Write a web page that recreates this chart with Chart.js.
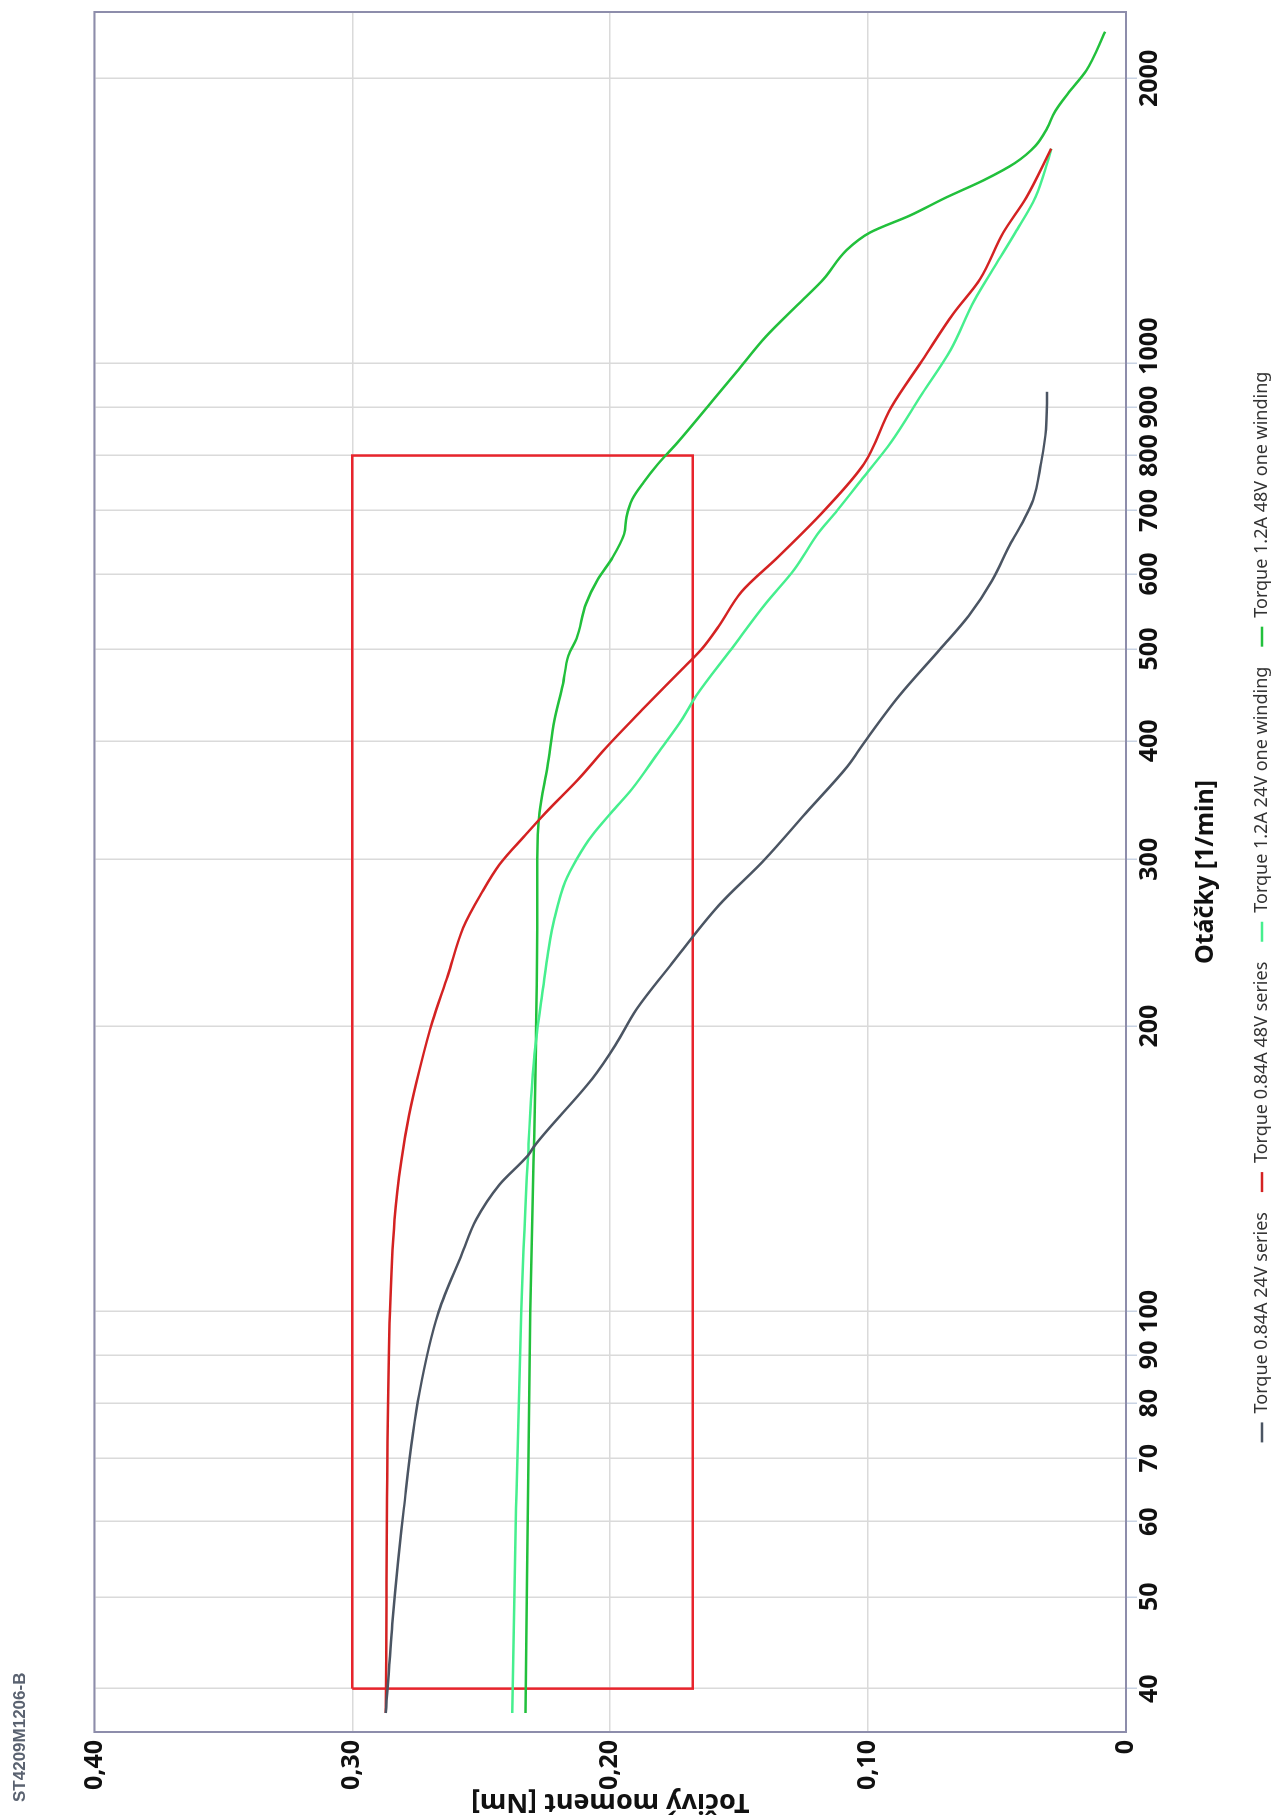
<!DOCTYPE html>
<html>
<head>
<meta charset="utf-8">
<title>ST4209M1206-B</title>
<script src="https://cdn.jsdelivr.net/npm/chart.js@4.4.1/dist/chart.umd.min.js"></script>
<style>
  html, body { margin: 0; padding: 0; background: #fff; overflow: hidden; width: 1272px; height: 1818px; }
  /* the chart is laid out landscape and turned a quarter turn to stand upright on the page */
  #frame { position: absolute; left: 0; top: 0; width: 1818px; height: 1272px;
           transform-origin: 0 0; transform: translateY(1818px) rotate(-90deg); background: #fff; }
  canvas { display: block; }
</style>
</head>
<body>
<div id="frame"><canvas id="chart" width="1818" height="1272"></canvas></div>
<script>
const chartTitle = 'ST4209M1206-B';
const speedAxisTitle = 'Otáčky [1/min]';
const torqueAxisTitle = 'Točivý moment [Nm]';
const speedTicks = [40, 50, 60, 70, 80, 90, 100, 200, 300, 400, 500, 600, 700, 800, 900, 1000, 2000];
const torqueTicks = [0, 0.1, 0.2, 0.3, 0.4];

const seriesNames = [
  'Torque 0.84A 24V series',
  'Torque 0.84A 48V series',
  'Torque 1.2A 24V one winding',
  'Torque 1.2A 48V one winding'
];

// 0.84 A, 24 V, series
const speed084A24V = [37.7, 46.8, 62, 82, 100, 115, 125, 136, 146, 150, 176, 191, 208, 233, 268, 300, 336, 376, 398, 446, 500, 542, 590, 644, 681, 718, 784, 852, 934];
const torque084A24V = [0.287, 0.2845, 0.280, 0.274, 0.2665, 0.2575, 0.252, 0.243, 0.232, 0.229, 0.207, 0.198, 0.190, 0.176, 0.158, 0.140, 0.124, 0.108, 0.1016, 0.088, 0.072, 0.061, 0.052, 0.045, 0.040, 0.036, 0.033, 0.031, 0.0306];

// 0.84 A, 48 V, series
const speed084A48V = [37.7, 100, 125, 144, 161, 181, 202, 226, 254, 276, 296, 318, 336, 366, 393, 433, 472, 500, 528, 575, 625, 700, 784, 900, 1008, 1129, 1228, 1375, 1496, 1686];
const torque084A48V = [0.287, 0.2854, 0.2836, 0.281, 0.278, 0.2737, 0.269, 0.263, 0.257, 0.250, 0.243, 0.233, 0.225, 0.2117, 0.2018, 0.187, 0.1735, 0.1645, 0.158, 0.149, 0.135, 0.117, 0.1016, 0.091, 0.079, 0.067, 0.0566, 0.0476, 0.0387, 0.029];

// 1.2 A, 24 V, one winding
const speed12A24V = [37.7, 62, 100, 144, 191, 220, 240, 260, 284, 300, 318, 336, 356, 388, 422, 446, 500, 558, 607, 661, 700, 760, 827, 930, 1034, 1165, 1268, 1374, 1500, 1630, 1686];
const torque12A24V = [0.238, 0.2365, 0.2345, 0.232, 0.229, 0.226, 0.224, 0.2216, 0.2175, 0.213, 0.207, 0.1996, 0.1915, 0.1816, 0.172, 0.1667, 0.153, 0.1398, 0.1285, 0.1196, 0.112, 0.1016, 0.091, 0.079, 0.068, 0.0589, 0.0508, 0.043, 0.035, 0.0305, 0.029];

// 1.2 A, 48 V, one winding
const speed12A48V = [37.7, 100, 144, 191, 254, 300, 336, 376, 421, 458, 492, 513, 558, 591, 625, 661, 689, 719, 750, 783, 828, 901, 980, 1067, 1161, 1228, 1318, 1375, 1434, 1496, 1561, 1628, 1698, 1772, 1848, 1928, 2040, 2240];
const torque12A48V = [0.2328, 0.231, 0.2297, 0.2288, 0.2283, 0.2283, 0.2274, 0.2243, 0.2216, 0.2184, 0.2162, 0.213, 0.2094, 0.205, 0.199, 0.1946, 0.1937, 0.1915, 0.187, 0.1816, 0.1735, 0.1622, 0.151, 0.1398, 0.1263, 0.1173, 0.1083, 0.0993, 0.0836, 0.0701, 0.0553, 0.0431, 0.0351, 0.0306, 0.0274, 0.0225, 0.0153, 0.0081];

// working region frame
const regionSpeed = [40, 800, 800, 40, 40];
const regionTorque = [0.30, 0.30, 0.168, 0.168, 0.30];

const seriesColors = ['#4b5563', '#d42222', '#46ef8e', '#22c03c'];
const regionColor = '#e8242c';

const toPoints = (xs, ys) => xs.map((x, i) => ({ x: x, y: ys[i] }));

const curveSets = [
  [speed084A24V, torque084A24V],
  [speed084A48V, torque084A48V],
  [speed12A24V, torque12A24V],
  [speed12A48V, torque12A48V]
];

const datasets = curveSets.map(([xs, ys], i) => ({
  label: seriesNames[i],
  data: toPoints(xs, ys),
  borderColor: seriesColors[i],
  backgroundColor: seriesColors[i],
  borderWidth: 2.5,
  pointRadius: 0,
  fill: false,
  cubicInterpolationMode: 'monotone'
}));

datasets.push({
  label: 'region',
  data: toPoints(regionSpeed, regionTorque),
  borderColor: regionColor,
  backgroundColor: regionColor,
  borderWidth: 2.5,
  pointRadius: 0,
  fill: false,
  tension: 0
});

// outline around the whole plot area
const plotFrame = {
  id: 'plotFrame',
  beforeDatasetsDraw(chart) {
    const { ctx, chartArea: a } = chart;
    ctx.save();
    ctx.strokeStyle = '#8d8dab';
    ctx.lineWidth = 2;
    ctx.strokeRect(a.left, a.top, a.right - a.left, a.bottom - a.top);
    ctx.restore();
  }
};

const tickFont = { family: "'Noto Sans', sans-serif", weight: 'bold', size: 25, lineHeight: 1 };

// the 1000 label is nudged away from its crowded neighbour 900
const speedLabel = v => (v === 1000 ? '\u2007\u2007 1000' : String(v));

new Chart(document.getElementById('chart'), {
  type: 'line',
  data: { datasets },
  options: {
    responsive: false,
    animation: false,
    layout: { padding: { left: 16, right: 12, top: 0, bottom: 0 } },
    plugins: {
      title: {
        display: true,
        text: chartTitle,
        align: 'start',
        color: '#5a6270',
        font: { family: "'Liberation Sans', Arial, sans-serif", weight: 'bold', size: 17, lineHeight: 1.2 },
        padding: { top: 10, bottom: 64 }
      },
      legend: {
        position: 'bottom',
        maxHeight: 39,
        labels: {
          usePointStyle: true,
          pointStyle: 'line',
          pointStyleWidth: 20,
          padding: 20,
          color: '#333',
          font: { family: "'Noto Sans', sans-serif", size: 18 },
          filter: item => item.datasetIndex < seriesNames.length
        }
      },
      tooltip: { enabled: false }
    },
    scales: {
      x: {
        type: 'logarithmic',
        min: 36,
        max: 2350,
        afterBuildTicks: scale => { scale.ticks = speedTicks.map(v => ({ value: v })); },
        afterFit: scale => { scale.height = 107; },
        ticks: {
          autoSkip: false,
          maxRotation: 0,
          minRotation: 0,
          padding: 0,
          color: '#111',
          font: tickFont,
          callback: speedLabel
        },
        grid: { color: '#dadada', lineWidth: 1.5, tickLength: 11, tickColor: '#c9d3e3', tickWidth: 1.5 },
        border: { display: false },
        title: {
          display: true,
          text: speedAxisTitle,
          color: '#111',
          font: { family: "'Noto Sans', sans-serif", weight: 'bold', size: 25, lineHeight: 1.2 },
          padding: { top: 10, bottom: 12 }
        }
      },
      y: {
        min: 0,
        max: 0.4,
        afterBuildTicks: scale => { scale.ticks = torqueTicks.map(v => ({ value: v })); },
        afterFit: scale => { scale.width = 70; },
        ticks: {
          padding: 8,
          color: '#111',
          font: tickFont,
          callback: v => (v === 0 ? '0' : Number(v).toFixed(2).replace('.', ','))
        },
        grid: { color: '#dadada', lineWidth: 1.5, drawTicks: false },
        border: { display: false },
        title: {
          display: true,
          text: torqueAxisTitle,
          color: '#111',
          font: { family: "'Noto Sans', sans-serif", weight: 'bold', size: 27, lineHeight: 1 },
          padding: { top: -13, bottom: 0 }
        }
      }
    }
  },
  plugins: [plotFrame]
});
</script>
</body>
</html>
